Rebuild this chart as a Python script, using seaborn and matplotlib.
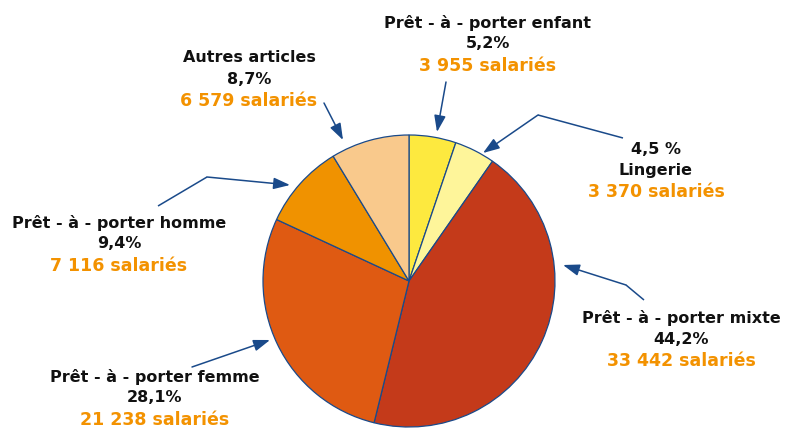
import matplotlib
matplotlib.use("Agg")
import matplotlib.pyplot as plt
import seaborn as sns

sns.set_style("white")
plt.rcParams["font.family"] = ["DejaVu Sans"]

# slices, clockwise from 12 o'clock
categories = ["Prêt - à - porter enfant", "Lingerie", "Prêt - à - porter mixte",
              "Prêt - à - porter femme", "Prêt - à - porter homme", "Autres articles"]
shares = [5.2, 4.5, 44.2, 28.1, 9.4, 8.7]
share_labels = ["5,2%", "4,5 %", "44,2%", "28,1%", "9,4%", "8,7%"]
employees = ["3 955 salariés", "3 370 salariés", "33 442 salariés",
             "21 238 salariés", "7 116 salariés", "6 579 salariés"]
colors = ["#FDE93F", "#FEF59A", "#C43A1A", "#DF5A12", "#F09200", "#F9C98C"]

BLUE = "#1A4A8A"
ORANGE = "#F39200"
H = 430


def py(y):
    # pixel row (top-down) -> data y
    return H - y


fig = plt.figure(figsize=(7.86, 4.30), dpi=100)
ax = fig.add_axes([0, 0, 1, 1])

ax.pie(shares, colors=colors, startangle=90, counterclock=False,
       center=(409, py(281)), radius=146, frame=True,
       wedgeprops=dict(edgecolor=BLUE, linewidth=0.9))
ax.set_xlim(0, 786)
ax.set_ylim(0, H)
ax.axis("off")

# label blocks: (x, y of first line, order of lines)
blocks = {
    0: (488, 23, "name_first"),
    1: (656, 149, "pct_first"),
    2: (681, 318, "name_first"),
    3: (155, 377, "name_first"),
    4: (119, 223, "name_first"),
    5: (249, 58, "name_first"),
}
for i, (x, y, mode) in blocks.items():
    first, second = (categories[i], share_labels[i]) if mode == "name_first" \
        else (share_labels[i], categories[i])
    ax.text(x, py(y), first, ha="center", va="center", fontsize=11.5,
            fontweight="bold", color="#111111")
    ax.text(x, py(y + 21), second, ha="center", va="center", fontsize=11.5,
            fontweight="bold", color="#111111")
    ax.text(x, py(y + 43), employees[i], ha="center", va="center", fontsize=12.5,
            fontweight="bold", color=ORANGE)

# leader lines: list of pixel points, last one is the arrow tip
leaders = [
    [(446, 82), (437, 132)],
    [(623, 138), (538, 115), (483, 153)],
    [(644, 300), (626, 285), (563, 265)],
    [(192, 367), (270, 340)],
    [(158, 206), (207, 177), (290, 185)],
    [(324, 103), (343, 140)],
]
for pts in leaders:
    xs = [p[0] for p in pts[:-1]]
    ys = [py(p[1]) for p in pts[:-1]]
    ax.plot(xs, ys, color=BLUE, lw=1.1, solid_capstyle="butt")
    ax.annotate("", xy=(pts[-1][0], py(pts[-1][1])),
                xytext=(pts[-2][0], py(pts[-2][1])),
                arrowprops=dict(arrowstyle="-|>,head_length=1.0,head_width=0.35",
                                color=BLUE, lw=1.1, shrinkA=0, shrinkB=0))

fig.savefig("out.png", dpi=100)
